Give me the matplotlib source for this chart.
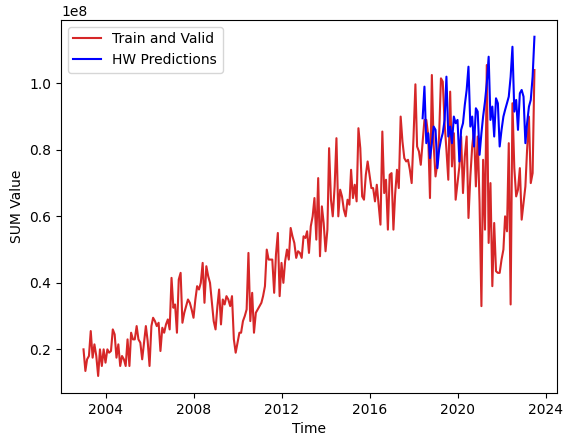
import matplotlib
matplotlib.use("Agg")
from matplotlib import pyplot as plt
import pandas as pd
import numpy as np

# monthly values, millions
train_valid = [
    20, 13.5, 17, 18, 25.5, 17.5, 21.5, 18, 12, 20, 15, 20, 16, 20, 19, 19.5, 26, 24.5, 17.5, 21.5,
    15, 18, 17, 15, 23, 15, 25, 23, 23, 27, 23, 22, 17, 22, 27, 22.5, 15, 27,
    29.5, 28.5, 27, 28, 19.5, 26.5, 25, 27.5, 29, 26, 41.5, 32.5, 33.5, 25, 41, 43, 28, 31, 33, 35,
    34, 32, 29.5, 35, 39, 38, 40, 46, 34, 45, 42, 40, 34, 28.5, 26, 33, 38, 27.5,
    35, 33.5, 36, 35, 33, 36, 23, 19, 22, 25, 25, 28.5, 30, 32, 49, 28.5, 37, 25, 31, 32,
    33, 34, 36, 39, 50, 47, 47, 47, 37, 48.5, 55, 36, 46, 40, 46.5, 50, 47, 56.5,
    54, 52, 47.5, 49.5, 49, 47.5, 54, 53.5, 55.5, 49, 57, 60, 65.5, 53, 71.5, 48, 63, 58, 49.5, 56,
    80.5, 65, 60, 69, 83.5, 60, 68, 66, 62, 60, 65, 63.5, 74, 65.5, 69.5, 64.5, 86.5, 80.5, 66,
    65, 72.5, 76.5, 72.5, 68.5, 68.5, 64.5, 69.5, 63.5, 57.5, 85.5, 67, 71, 56, 72.5, 73, 56, 66.5, 74, 68.5,
    90, 82.5, 77.5, 76.5, 77, 74, 70, 84, 99.7, 81, 79.5, 75.5, 82.5, 89, 89, 84.5, 65.5, 102.5, 81.5, 72,
    76, 84, 101.5, 100.5, 88, 80, 71, 97.5, 75, 85, 65, 70, 75, 84, 67, 78, 84, 59.5, 72, 81,
    86, 69, 84, 64, 33, 77, 56, 105.5,
    52, 70, 39, 58, 43.5, 43, 43, 47, 50, 60, 55.5, 82, 33.5, 94, 74.5, 66, 68, 74.5, 59, 64,
    69, 80, 90, 70, 73, 104,
]

hw_pred = [
    89.5, 99, 82, 85, 77.5, 82, 87, 86, 74.5, 80, 83, 85, 89, 102, 84, 87, 82, 90, 88, 89,
    76.5, 86, 88, 93.5, 98, 105, 87, 90, 81, 92.5, 91.5, 78.5, 85,
    90, 94.5, 100, 108, 89, 93, 84, 95.5, 94, 81, 86, 90, 92, 94, 96, 102, 111, 91.5, 95,
    86, 97, 98, 96, 82, 88, 93, 95, 102, 114,
]

dates = pd.date_range("2003-01-01", periods=len(train_valid), freq="MS")
hw_dates = dates[-len(hw_pred):]

fig = plt.figure(figsize=(5.63, 4.40), dpi=100)
ax = fig.add_axes([0.1083, 0.107, 0.881, 0.848])

ax.plot(dates, np.array(train_valid) * 1e6, color="tab:red", label="Train and Valid")
ax.plot(hw_dates, np.array(hw_pred) * 1e6, color="blue", label="HW Predictions")

ax.set_xlabel("Time")
ax.set_ylabel("SUM Value")
ax.legend(loc="upper left")

fig.savefig("out.png", dpi=100)
